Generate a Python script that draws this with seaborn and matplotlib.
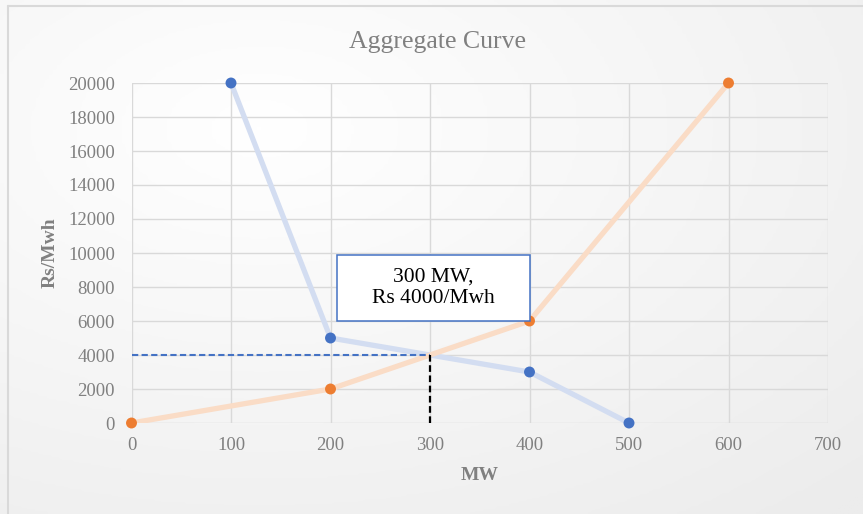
import numpy as np
import pandas as pd
import matplotlib
matplotlib.use("Agg")
import matplotlib.pyplot as plt
import seaborn as sns
from matplotlib.patches import Rectangle

# data
demand_mw = [100, 200, 400, 500]
demand_price = [20000, 5000, 3000, 0]
supply_mw = [0, 200, 400, 600]
supply_price = [0, 2000, 6000, 20000]
eq_mw = 300
eq_price = 4000
eq_label = "300 MW,\nRs 4000/Mwh"
x_ticks = [0, 100, 200, 300, 400, 500, 600, 700]
y_ticks = list(range(0, 20001, 2000))

df = pd.DataFrame({
    "MW": demand_mw + supply_mw,
    "price": demand_price + supply_price,
    "series": ["demand"] * len(demand_mw) + ["supply"] * len(supply_mw),
})

sns.set_style("whitegrid")
plt.rcParams["font.family"] = ["Liberation Serif", "DejaVu Serif"]

blue = "#4472c4"
orange = "#ed7d31"
light = {"demand": "#d3ddf1", "supply": "#fadcc6"}
solid = {"demand": blue, "supply": orange}
gray = "#808080"

fig = plt.figure(figsize=(8.63, 5.14), dpi=100)

# soft gradient background like the Excel chart area
bg = fig.add_axes([0, 0, 1, 1], zorder=-10)
gx, gy = np.meshgrid(np.linspace(0, 1, 200), np.linspace(0, 1, 200))
grad = np.clip(np.hypot(gx - 0.3, gy - 0.25) / 1.0, 0, 1)
bg.imshow(grad, cmap=matplotlib.colors.LinearSegmentedColormap.from_list("g", ["#ffffff", "#ececec"]),
          extent=[0, 1, 0, 1], origin="upper", aspect="auto")
bg.plot([8 / 863, 8 / 863], [0, 1 - 6 / 514], color="#d9d9d9", lw=1.5)
bg.plot([8 / 863, 1], [1 - 6 / 514, 1 - 6 / 514], color="#d9d9d9", lw=1.5)
bg.set_xlim(0, 1)
bg.set_ylim(0, 1)
bg.axis("off")

ax = fig.add_axes([131.5 / 863, 1 - 423 / 514, 696.5 / 863, 340 / 514])
ax.patch.set_alpha(0)

sns.lineplot(data=df, x="MW", y="price", hue="series", palette=light, sort=False,
             lw=3.8, legend=False, ax=ax, zorder=2)
sns.scatterplot(data=df, x="MW", y="price", hue="series", palette=solid, s=62,
                edgecolor="none", legend=False, ax=ax, zorder=4, clip_on=False)

# equilibrium guides
ax.hlines(eq_price, 0, eq_mw, colors=blue, linestyles=(0, (3, 1.6)), lw=1.5, zorder=3)
ax.vlines(eq_mw, 0, eq_price, colors="black", linestyles=(0, (3, 1.6)), lw=1.6, zorder=3)

# label box
ax.add_patch(Rectangle((207, 6000), 193, 3880, facecolor="white", edgecolor=blue,
                       lw=1.1, zorder=5))
ax.text(303.5, 7940, eq_label, ha="center", va="center", fontsize=15.5,
        color="black", linespacing=1.15, zorder=6)

ax.set_xlim(0, 700)
ax.set_ylim(0, 20000)
ax.set_xticks(x_ticks)
ax.set_yticks(y_ticks)
ax.grid(True, color="#d9d9d9", lw=1.0)
for s in ax.spines.values():
    s.set_visible(False)
ax.tick_params(axis="both", length=0, labelsize=13.5, labelcolor=gray)
ax.tick_params(axis="y", pad=12)
ax.tick_params(axis="x", pad=10)

ax.set_xlabel("MW", fontsize=14, fontweight="bold", color=gray)
ax.set_ylabel("Rs/Mwh", fontsize=14, fontweight="bold", color=gray)
ax.xaxis.label.set_va("center")
ax.yaxis.label.set_va("center")
ax.xaxis.set_label_coords((480 - 131.5) / 696.5, (423 - 475) / 340)
ax.yaxis.set_label_coords((50 - 131.5) / 696.5, 0.5)

fig.text(437.5 / 863, 1 - 42 / 514, "Aggregate Curve", ha="center", va="center",
         fontsize=18.5, color=gray)

fig.savefig("out.png", dpi=100)
